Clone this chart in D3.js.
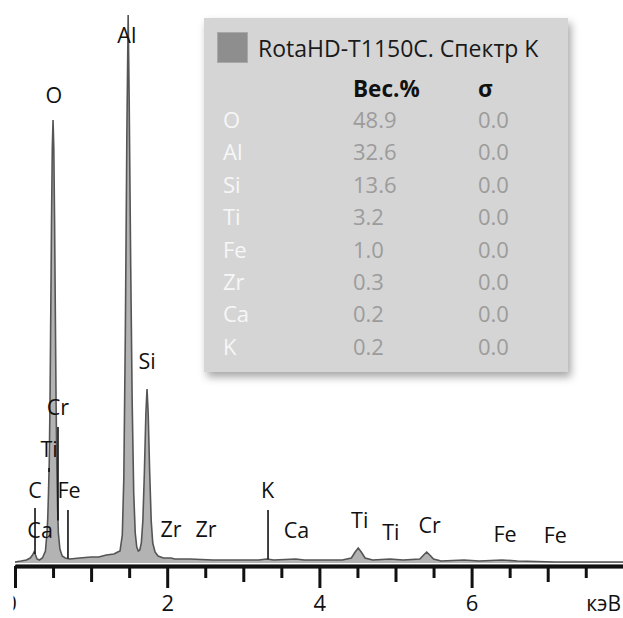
<!DOCTYPE html>
<html>
<head>
<meta charset="utf-8">
<script src="https://cdn.jsdelivr.net/npm/d3@7"></script>
<style>
  body { margin: 0; background: #fff; }
  svg { display: block; font-family: "Open Sans", sans-serif; }
</style>
</head>
<body>
<div id="chart"></div>
<script>
// spectrum: energy (keV) and counts (arbitrary units)
var energy = [0.00, 0.08, 0.15, 0.20, 0.23, 0.25, 0.27, 0.29, 0.32, 0.36, 0.40, 0.42, 0.43, 0.44, 0.45, 0.46, 0.47, 0.48, 0.49, 0.50,
  0.51, 0.52, 0.53, 0.54, 0.55, 0.56, 0.57, 0.59, 0.62, 0.66, 0.72, 0.85, 1.00, 1.10, 1.20, 1.30, 1.35, 1.38, 1.41, 1.43,
  1.45, 1.47, 1.487, 1.50, 1.52, 1.54, 1.56, 1.58, 1.60, 1.62, 1.64, 1.66, 1.68, 1.70, 1.72, 1.735, 1.75, 1.77, 1.79, 1.81,
  1.84, 1.88, 1.95, 2.05, 2.10, 2.30, 2.60, 2.90, 3.20, 3.31, 3.40, 3.69, 3.80, 4.00, 4.30, 4.42, 4.47, 4.51, 4.55, 4.60,
  4.70, 4.93, 5.10, 5.32, 5.37, 5.41, 5.45, 5.50, 5.60, 5.90, 6.10, 6.40, 6.60, 7.10, 8.00];
var counts = [1, 2, 3, 5, 8, 11, 8, 4, 3, 5, 12, 30, 44, 70, 100, 160, 250, 343, 415, 443,
  415, 343, 250, 160, 95, 55, 30, 14, 7, 5, 4, 5, 6, 6, 8, 9, 11, 12, 28, 85,
  230, 430, 548, 465, 300, 160, 70, 30, 16, 12, 13, 20, 42, 90, 150, 174, 150, 90, 42, 20,
  11, 7, 5, 5, 4, 4, 3, 3, 3, 4, 3, 4, 3, 3, 3, 5, 11, 15, 11, 5,
  3, 4, 3, 4, 8, 11, 8, 4, 2, 3, 2, 3, 2, 1, 1];

// peak labels: text, energy, label height (counts)
var peakNames  = ["O", "Al", "Si", "Cr", "Ti", "C", "Fe", "Ca", "Zr", "Zr", "K", "Ca", "Ti", "Ti", "Cr", "Fe", "Fe"];
var peakEnergy = [0.51, 1.47, 1.735, 0.565, 0.447, 0.263, 0.71, 0.33, 2.05, 2.51, 3.32, 3.70, 4.53, 4.94, 5.45, 6.44, 7.10];
var peakLevel  = [460, 520, 194, 148, 106, 65, 65, 25, 26, 26, 65, 25, 35, 23, 30, 21, 20];

// marker lines: energy, top (counts)
var markerEnergy = [0.263, 0.447, 0.565, 0.696, 3.325];
var markerTop    = [55, 95, 136, 53, 53];

// legend table
var legendTitle = "RotaHD-T1150C. Спектр K";
var elements  = ["O", "Al", "Si", "Ti", "Fe", "Zr", "Ca", "K"];
var weightPct = [48.9, 32.6, 13.6, 3.2, 1.0, 0.3, 0.2, 0.2];
var sigma     = [0.0, 0.0, 0.0, 0.0, 0.0, 0.0, 0.0, 0.0];

var majorTicks = [0, 2, 4, 6];
var midTicks = [1, 3, 5, 7];
var halfTicks = [0.5, 1.5, 2.5, 3.5, 4.5, 5.5, 6.5, 7.5];

var width = 623, height = 618;
var axisY = 566;

var x = d3.scaleLinear().domain([0, 8]).range([15, 623.8]);
var y = d3.scaleLinear().domain([0, 550]).range([563, 13]);

var svg = d3.select("#chart").append("svg")
    .attr("width", width)
    .attr("height", height);

var defs = svg.append("defs");
var shadow = defs.append("filter").attr("id", "shadow")
    .attr("x", "-10%").attr("y", "-10%").attr("width", "130%").attr("height", "130%");
shadow.append("feDropShadow")
    .attr("dx", 3).attr("dy", 5).attr("stdDeviation", 4)
    .attr("flood-color", "#000").attr("flood-opacity", 0.35);
// the picture is cropped just left of the "0" tick (tick coordinates)
defs.append("clipPath").attr("id", "clip0")
  .append("rect").attr("x", -2).attr("y", 20).attr("width", 40).attr("height", 40);

var pts = energy.map(function (e, i) { return [e, counts[i]]; });

var area = d3.area()
    .x(function (d) { return x(d[0]); })
    .y0(y(0))
    .y1(function (d) { return y(d[1]); });
var line = d3.line()
    .x(function (d) { return x(d[0]); })
    .y(function (d) { return y(d[1]); });

svg.append("path")
    .attr("d", area(pts))
    .attr("fill", "#b3b3b3");
svg.append("path")
    .attr("d", line(pts))
    .attr("fill", "none")
    .attr("stroke", "#555")
    .attr("stroke-width", 1.6);

// axes
function drawAxis(vals, size, labels) {
  var ax = d3.axisBottom(x).tickValues(vals).tickSize(size).tickSizeOuter(0);
  if (labels) ax.tickFormat(function (d, i) { return labels[i]; });
  else ax.tickFormat("");
  var g = svg.append("g")
      .attr("transform", "translate(0," + axisY + ")")
      .call(ax);
  g.selectAll("line").attr("stroke", "#111").attr("stroke-width", 3);
  g.select(".domain").attr("stroke", "#111").attr("stroke-width", 3.5);
  g.selectAll("text")
      .attr("y", 45).attr("dy", 0)
      .attr("fill", "#111")
      .style("font-size", "22px")
      .style("font-family", "Open Sans, sans-serif");
  return g;
}
drawAxis(halfTicks, 12);
drawAxis(midTicks, 16);
var xMajor = drawAxis(majorTicks, 22, ["0", "2", "4", "6"]);
xMajor.selectAll(".tick")
    .filter(function (d) { return d === 0; })
    .select("text")
    .attr("x", -5)
    .attr("clip-path", "url(#clip0)");

svg.append("text")
    .attr("x", 621).attr("y", 611)
    .attr("text-anchor", "end")
    .style("font-size", "21px")
    .attr("fill", "#111")
    .text("кэВ");

// marker lines, down to the curve
var bis = d3.bisector(function (d) { return d[0]; }).left;
function curveAt(e) {
  var i = bis(pts, e);
  if (i <= 0) return pts[0][1];
  var a = pts[i - 1], b = pts[i];
  return a[1] + (b[1] - a[1]) * (e - a[0]) / (b[0] - a[0]);
}
svg.selectAll(".marker").data(markerEnergy).enter().append("line")
    .attr("class", "marker")
    .attr("x1", function (d) { return x(d); })
    .attr("x2", function (d) { return x(d); })
    .attr("y1", function (d, i) { return y(markerTop[i]); })
    .attr("y2", function (d) { return y(curveAt(d)); })
    .attr("stroke", "#111")
    .attr("stroke-width", 1.6);

svg.selectAll(".peak").data(peakNames).enter().append("text")
    .attr("class", "peak")
    .attr("x", function (d, i) { return x(peakEnergy[i]); })
    .attr("y", function (d, i) { return y(peakLevel[i]); })
    .attr("text-anchor", "middle")
    .style("font-size", "21.5px")
    .attr("fill", "#111")
    .text(function (d) { return d; });

// legend panel
var lg = svg.append("g");
lg.append("rect")
    .attr("x", 204).attr("y", 18)
    .attr("width", 364).attr("height", 354)
    .attr("fill", "#d5d5d5")
    .attr("filter", "url(#shadow)");
lg.append("rect")
    .attr("x", 217.5).attr("y", 32.5)
    .attr("width", 30).attr("height", 30)
    .attr("fill", "#8e8e8e")
    .attr("stroke", "#a8a8a8");
lg.append("text")
    .attr("x", 258).attr("y", 57)
    .style("font-size", "23px")
    .attr("fill", "#1a1a1a")
    .text(legendTitle);
lg.append("text")
    .attr("x", 353).attr("y", 97)
    .style("font-size", "22.5px").style("font-weight", "bold")
    .attr("fill", "#111")
    .text("Вес.%");
lg.append("text")
    .attr("x", 478).attr("y", 97)
    .style("font-size", "22.5px").style("font-weight", "bold")
    .attr("fill", "#111")
    .text("σ");

var rows = lg.selectAll(".row").data(elements).enter().append("g")
    .attr("class", "row")
    .attr("transform", function (d, i) { return "translate(0," + (128 + i * 32.4) + ")"; });
rows.append("text")
    .attr("x", 223)
    .style("font-size", "22px")
    .attr("fill", "#f7f7f7")
    .text(function (d) { return d; });
rows.append("text")
    .attr("x", 353)
    .style("font-size", "22px")
    .attr("fill", "#9c9c9c")
    .text(function (d, i) { return weightPct[i].toFixed(1); });
rows.append("text")
    .attr("x", 478)
    .style("font-size", "22px")
    .attr("fill", "#9c9c9c")
    .text(function (d, i) { return sigma[i].toFixed(1); });
</script>
</body>
</html>
